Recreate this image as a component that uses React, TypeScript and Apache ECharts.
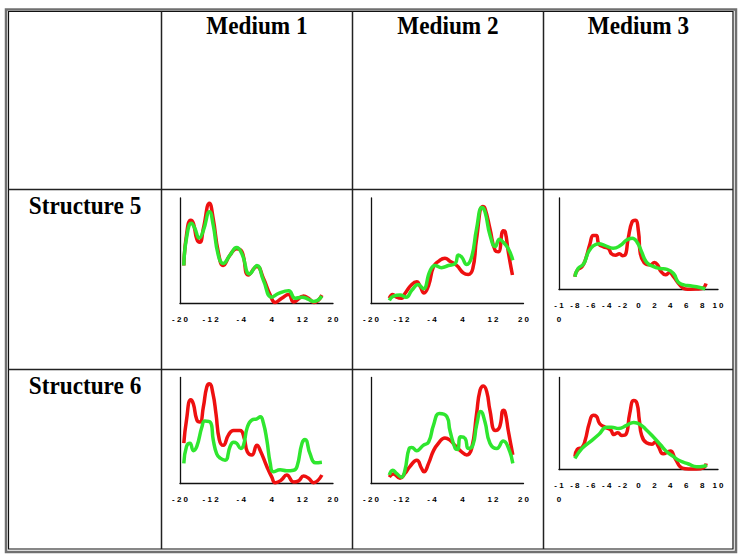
import React, { useEffect, useRef } from "react";
import * as echarts from "echarts";

// Column / row headings
const mediums = ["Medium 1", "Medium 2", "Medium 3"];
const structures = ["Structure 5", "Structure 6"];

// Tick setup per column: [min, max, interval]
const wideTicks = [-20, 20, 8];
const narrowTicks = [-10, 10, 2];

// Structure 5
const s5m1Red = [[-19, 36], [-18.3, 65], [-17.2, 79], [-16.5, 76], [-15.6, 61], [-14.8, 58], [-13.9, 71], [-12.3, 95], [-11.3, 80], [-10, 49], [-8.7, 36], [-6.9, 46], [-5.2, 52], [-3.8, 49], [-2.1, 27], [0.1, 35], [1.8, 24], [3.6, 8], [4.9, 1], [6.6, 5], [8.4, 8.5], [9.7, 1.5], [12.3, 7], [13.6, 5], [15, 1], [17.1, 8]];
const s5m1Green = [[-19, 36], [-18.3, 62], [-17, 76], [-16.1, 71], [-15, 62], [-13.9, 69], [-12.3, 87], [-11.3, 74], [-10, 46], [-8.7, 38], [-6.9, 46], [-5.2, 53], [-3.8, 47], [-1.8, 28], [0.1, 36], [1.8, 22], [4, 6], [5.8, 9.5], [8.4, 12], [10.1, 5], [11.9, 6], [13.6, 4], [15, 2], [17.1, 7]];
const s5m2Red = [[-15.2, 5], [-14.3, 8.5], [-13.3, 6], [-12, 5], [-11.1, 9.5], [-9.3, 18], [-8, 20.5], [-7.1, 16], [-6.1, 10], [-4.9, 17], [-3.6, 35], [-2.3, 40], [-0.6, 43], [0.7, 40], [2.5, 36], [4.2, 29], [5.5, 27.5], [6.7, 33], [7.7, 61.5], [9.3, 92], [9.9, 90], [11.2, 71], [12.6, 50], [13.4, 49], [14.7, 69], [15.2, 68], [16, 49], [17.1, 27]];
const s5m2Green = [[-15.2, 3], [-14.1, 7], [-12.4, 8], [-10.8, 6], [-9.3, 12.5], [-7.6, 18], [-6.3, 14], [-4.5, 31], [-3.2, 36], [-1.5, 34], [0.3, 36], [2.1, 38], [2.9, 46], [3.8, 44], [5.1, 37], [6.4, 44], [7.7, 71], [9.1, 91], [9.9, 87], [11.2, 65], [12.6, 54], [13.7, 61], [14.7, 58], [16, 52], [17.2, 41]];
const s5m3Red = [[-8, 14], [-7.7, 21], [-7.1, 25], [-6.7, 32], [-6.1, 50], [-5.7, 59], [-5.3, 59], [-5, 50], [-4.4, 46.5], [-3.8, 45], [-3.4, 39], [-2.9, 37.5], [-2.4, 39], [-2, 37], [-1.7, 37.5], [-1.3, 55.6], [-0.8, 74], [-0.4, 75.6], [0, 63], [0.2, 41], [0.7, 29.5], [1.5, 27], [2, 29.5], [2.4, 27], [2.8, 20], [3.4, 16], [3.9, 18.5], [4.4, 14], [5.2, 5], [5.9, 0.5], [6.5, 0.3], [7.3, 0.5], [8, 1], [8.5, 6.5]];
const s5m3Green = [[-8, 14], [-7.6, 23], [-6.9, 28], [-6.3, 41], [-5.7, 47.6], [-5, 50], [-4.2, 48], [-3.2, 45], [-2.3, 48], [-1.5, 54], [-0.8, 56], [-0.2, 52], [0.4, 41], [1, 30], [1.9, 25], [2.7, 23], [3.6, 22], [4.4, 17.5], [5, 8], [5.7, 5], [6.5, 4], [7.3, 3], [8.4, 0.8]];

// Structure 6
const s6m1Red = [[-19, 38], [-18.3, 60], [-17.2, 79], [-16.5, 75], [-15.6, 60], [-14.8, 58], [-13.9, 72], [-13, 91], [-12.3, 94], [-11.4, 85], [-10.6, 66], [-9.7, 41], [-8.7, 36], [-7.3, 46], [-6, 50], [-4.3, 50], [-3.2, 42.5], [-2.4, 30], [-1.2, 27], [0.1, 36], [1, 31], [2.7, 16], [4, 6], [4.9, 0.8], [6.4, 3], [7.9, 8], [9.7, 1.5], [11, 2.5], [12.3, 7], [13.6, 5], [14.9, 0.8], [17.1, 8]];
const s6m1Green = [[-19, 19], [-18.3, 35], [-17.4, 38], [-16.5, 31], [-15.6, 35], [-14.3, 53], [-13.5, 59], [-12.1, 58], [-11.3, 41], [-10.4, 28], [-9.5, 24], [-8.2, 22], [-6.9, 35], [-6, 39], [-5.2, 38], [-4.1, 33], [-3.4, 36], [-2.4, 53], [-1.2, 60], [0.1, 61], [1, 63], [1.8, 57], [2.7, 41], [3.6, 19], [4.4, 11], [6.2, 13], [7.9, 12], [9.7, 12.5], [10.6, 16], [11.9, 38], [12.7, 41.5], [14, 28], [15.4, 19.5], [17.1, 20]];
const s6m2Red = [[-15.2, 6], [-14.1, 9], [-12.4, 5], [-11.1, 9.5], [-9.8, 16], [-8, 22], [-6.7, 14], [-6.1, 11], [-4.9, 19], [-3.6, 31], [-2.3, 38], [-0.6, 43], [0.7, 41], [2, 36], [3.4, 31], [5.1, 27], [6.4, 33], [7.7, 66], [8.6, 88], [9.5, 92], [10.4, 86], [11.2, 69], [12.6, 50], [13.7, 53], [14.7, 69], [15.2, 67], [16, 50], [17.2, 27]];
const s6m2Green = [[-15.2, 8], [-14.3, 12.5], [-13.3, 9.5], [-12, 6], [-11.1, 12.5], [-10, 33], [-9.3, 34], [-8, 31], [-6.3, 36], [-4.9, 39], [-3.6, 55], [-2.1, 66], [-0.1, 63], [0.7, 50], [2.1, 33], [2.7, 32], [3.5, 44], [4.7, 42.5], [5.5, 33], [6.7, 36], [7.7, 55], [8.8, 68], [9.9, 58], [11.2, 38], [13, 33], [14.7, 40], [16, 34], [17.2, 19]];
const s6m3Red = [[-8, 14], [-7.7, 22], [-7.1, 24], [-6.7, 32], [-6.2, 50], [-5.7, 59], [-5.3, 58], [-4.9, 50], [-4.2, 46], [-3.5, 43], [-3.1, 38], [-2.6, 40], [-2.1, 37], [-1.6, 38], [-1.1, 61], [-0.6, 75], [-0.2, 72], [0.1, 54], [0.4, 37], [1, 29], [1.7, 27.5], [2.1, 30], [2.5, 25], [3.1, 17], [4, 20], [4.6, 12], [5.5, 1.5], [6.3, 0.5], [7.3, 0.5], [8.2, 2], [8.5, 6.5]];
const s6m3Green = [[-8, 12], [-7.1, 23], [-6.1, 30], [-5, 38], [-4, 46], [-3.4, 46], [-2.5, 44.5], [-1.5, 48], [-0.6, 51], [0.2, 49], [1, 43], [1.9, 35], [2.7, 27.5], [3.6, 19], [4.4, 14], [5.2, 9.5], [6.3, 6], [7.3, 3], [8.2, 3.6], [8.6, 4.7]];

const RED = "#ee1010";
const GREEN = "#2fe62f";

const panels = [
  { grid: { left: 180, top: 198, width: 153, height: 105.5 }, ticks: wideTicks, red: s5m1Red, green: s5m1Green },
  { grid: { left: 371, top: 198, width: 152.5, height: 105.5 }, ticks: wideTicks, red: s5m2Red, green: s5m2Green },
  { grid: { left: 559, top: 198, width: 159, height: 91.5 }, ticks: narrowTicks, red: s5m3Red, green: s5m3Green },
  { grid: { left: 180, top: 377.5, width: 153, height: 106 }, ticks: wideTicks, red: s6m1Red, green: s6m1Green },
  { grid: { left: 371, top: 377.5, width: 152.5, height: 106 }, ticks: wideTicks, red: s6m2Red, green: s6m2Green },
  { grid: { left: 559, top: 377.5, width: 159, height: 92 }, ticks: narrowTicks, red: s6m3Red, green: s6m3Green },
];

const spaced = (v: number) => {
  if (v === -10) return "- 1\n0";
  return String(v).split("").join(" ");
};

export default function App() {
  const ref = useRef<HTMLDivElement>(null);
  useEffect(() => {
    if (!ref.current) return;
    const chart = echarts.init(ref.current, undefined, { renderer: "svg" });
    const grids: any[] = [];
    const xAxes: any[] = [];
    const yAxes: any[] = [];
    const series: any[] = [];
    panels.forEach((p, i) => {
      grids.push({ ...p.grid, containLabel: false });
      xAxes.push({
        type: "value",
        gridIndex: i,
        min: p.ticks[0],
        max: p.ticks[1],
        interval: p.ticks[2],
        axisLine: { show: true, onZero: false, lineStyle: { color: "#111", width: 1.3 } },
        axisTick: { show: false },
        splitLine: { show: false },
        axisLabel: {
          formatter: spaced,
          color: "#000",
          fontFamily: "Liberation Sans, Arial, sans-serif",
          fontWeight: "bold",
          fontSize: 8,
          lineHeight: 14,
          margin: 9,
          showMinLabel: true,
          showMaxLabel: true,
        },
      });
      yAxes.push({
        type: "value",
        gridIndex: i,
        min: 0,
        max: 100,
        axisLine: { show: true, onZero: false, lineStyle: { color: "#111", width: 1.3 } },
        axisTick: { show: false },
        axisLabel: { show: false },
        splitLine: { show: false },
      });
      series.push({
        type: "line",
        xAxisIndex: i,
        yAxisIndex: i,
        data: p.red,
        smooth: 0.5,
        showSymbol: false,
        lineStyle: { color: RED, width: 3.5 },
        z: 2,
      });
      series.push({
        type: "line",
        xAxisIndex: i,
        yAxisIndex: i,
        data: p.green,
        smooth: 0.5,
        showSymbol: false,
        lineStyle: { color: GREEN, width: 3.5 },
        z: 3,
      });
    });

    const headFont = "bold 25px 'Liberation Serif', 'Times New Roman', serif";
    const colCenters = [257, 448, 638.5];
    const graphics: any[] = [
      { type: "rect", shape: { x: 6, y: 9.5, width: 730, height: 542.5 }, style: { fill: "none", stroke: "#707070", lineWidth: 2.5 }, z: 10 },
      { type: "rect", shape: { x: 8.5, y: 11.5, width: 724.5, height: 537.5 }, style: { fill: "none", stroke: "#111", lineWidth: 1.2 }, z: 10 },
      ...[161.5, 352.5, 543.5].map((x) => ({
        type: "line",
        shape: { x1: x, y1: 11.5, x2: x, y2: 549 },
        style: { stroke: "#222", lineWidth: 1.5 },
        z: 10,
      })),
      ...[189.5, 369.5].map((y) => ({
        type: "line",
        shape: { x1: 8.5, y1: y, x2: 733, y2: y },
        style: { stroke: "#222", lineWidth: 1.5 },
        z: 10,
      })),
      ...mediums.map((t, i) => ({
        type: "text",
        x: colCenters[i],
        y: 25,
        scaleX: 0.93,
        style: { text: t, font: headFont, fill: "#000", align: "center", verticalAlign: "middle" },
        z: 10,
      })),
      ...structures.map((t, i) => ({
        type: "text",
        x: 85,
        y: [205, 385][i],
        scaleX: 0.93,
        style: { text: t, font: headFont, fill: "#000", align: "center", verticalAlign: "middle" },
        z: 10,
      })),
    ];

    chart.setOption({
      animation: false,
      backgroundColor: "#fff",
      grid: grids,
      xAxis: xAxes,
      yAxis: yAxes,
      series,
      graphic: graphics,
    });
    return () => chart.dispose();
  }, []);
  return <div ref={ref} style={{ position: "fixed", left: 0, top: 0, width: 743, height: 559 }} />;
}
